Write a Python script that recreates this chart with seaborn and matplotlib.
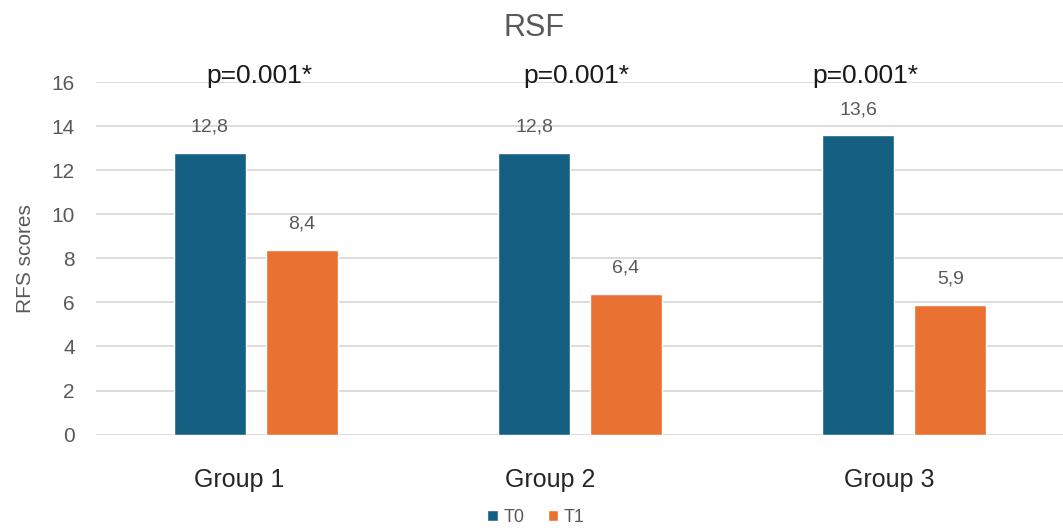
import numpy as np
import pandas as pd
import matplotlib
matplotlib.use('Agg')
import matplotlib.pyplot as plt
import matplotlib.transforms as mtransforms
import seaborn as sns

groups = ['Group 1', 'Group 2', 'Group 3']
t0 = [12.8, 12.8, 13.6]
t1 = [8.4, 6.4, 5.9]
p_labels = ['p=0.001*', 'p=0.001*', 'p=0.001*']

df = pd.DataFrame({
    'group': groups * 2,
    'time': ['T0'] * 3 + ['T1'] * 3,
    'score': t0 + t1,
})

sns.set_style('white')
plt.rcParams['font.family'] = ['Liberation Sans', 'DejaVu Sans']

fig, ax = plt.subplots(figsize=(10.63, 5.3), dpi=100)
fig.subplots_adjust(left=0.09, right=1.0, top=0.845, bottom=0.18)

sns.barplot(data=df, x='group', y='score', hue='time', ax=ax,
            palette={'T0': '#156082', 'T1': '#E97132'},
            width=0.568, gap=0.217, saturation=1, legend=True)

# value labels
for cont in ax.containers:
    labels = [f'{b.get_height():.1f}'.replace('.', ',') for b in cont]
    ax.bar_label(cont, labels=labels, padding=12, color='#595959', fontsize=14)

# p-values above each group
p_x = [0.01, 0.99, 1.88]
for xp, lab in zip(p_x, p_labels):
    ax.text(xp, 15.97, lab, ha='center', va='baseline', fontsize=19, color='#1a1a1a')

ax.set_ylim(0, 16)
ax.set_xlim(-0.494, 2.49)
ax.set_yticks(np.arange(0, 17, 2))
ax.yaxis.grid(True, color='#d9d9d9', linewidth=1.3)
ax.set_axisbelow(True)
for s in ax.spines.values():
    s.set_visible(False)
ax.tick_params(axis='y', length=0, labelsize=15, labelcolor='#595959', pad=15)
ax.tick_params(axis='x', length=0, labelsize=18, labelcolor='#262626', pad=24)
# Excel places the category labels slightly left of the bar pairs
for lab, dx in zip(ax.get_xticklabels(), [-17, -30, -15]):
    lab.set_transform(lab.get_transform() + mtransforms.ScaledTranslation(dx / 100, 0, fig.dpi_scale_trans))
ax.set_xlabel('')
ax.set_ylabel('RFS scores', fontsize=15, color='#595959', labelpad=12)
fig.suptitle('RSF', x=0.502, y=0.975, fontsize=22, color='#595959')

leg = ax.legend(loc='upper center', bbox_to_anchor=(0.455, -0.165),
                ncol=2, frameon=False, fontsize=13, handlelength=0.6, handleheight=0.6,
                handletextpad=0.3, columnspacing=1.3)
for t in leg.get_texts():
    t.set_color('#595959')

fig.savefig('out.png', dpi=100)
